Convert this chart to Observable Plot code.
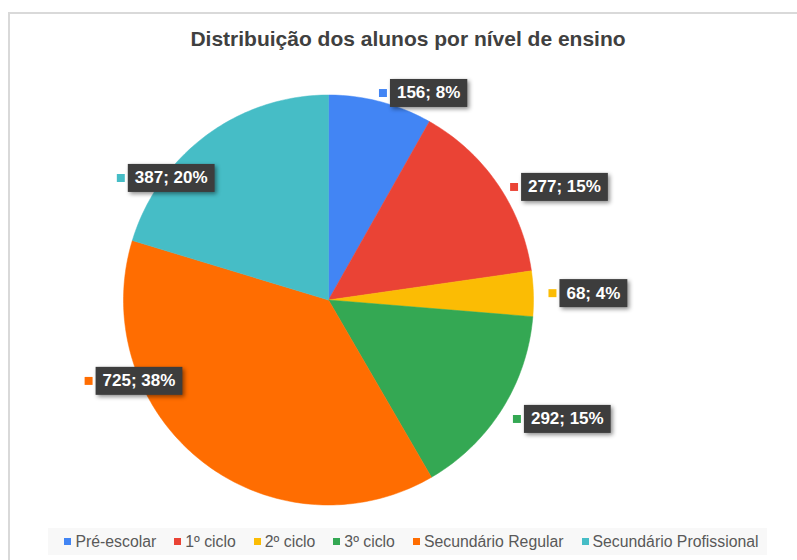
<!DOCTYPE html>
<html><head><meta charset="utf-8">
<script src="https://cdn.jsdelivr.net/npm/d3@7"></script>
<script src="https://cdn.jsdelivr.net/npm/@observablehq/plot@0.6"></script>
<style>
body{margin:0;background:#fff;font-family:"Liberation Sans",Arial,sans-serif;}
#wrap{position:relative;width:797px;height:560px;overflow:hidden;}
#frame{position:absolute;left:8px;top:12px;width:900px;height:700px;border-top:2px solid #d9d9d9;border-left:2px solid #d9d9d9;}
#chart{position:absolute;left:0;top:0;}
#title{position:absolute;left:0;width:816px;top:27px;text-align:center;font-weight:bold;font-size:21px;color:#404040;}
#legend{position:absolute;left:48px;top:528px;width:719px;height:27px;box-sizing:border-box;padding-left:8px;background:#f8f8f8;display:flex;justify-content:center;align-items:center;font-size:15.8px;color:#595959;}
.item{display:flex;align-items:center;margin:0 9px;white-space:nowrap;}
.sw{width:7px;height:7px;margin-right:4px;}
</style></head><body>
<div id="wrap"><div id="frame"></div><div id="chart"></div><div id="title">Distribuição dos alunos por nível de ensino</div><div id="legend"></div></div>
<script>
const categories = ["Pré-escolar", "1º ciclo", "2º ciclo", "3º ciclo", "Secundário Regular", "Secundário Profissional"];
const values = [156, 277, 68, 292, 725, 387];
const colors = ["#4285f4", "#ea4335", "#fbbc04", "#34a853", "#ff6d01", "#46bdc6"];

// label placement (angle shift from slice middle in degrees, distance as multiple of radius)
const labelShift = [0, 3, 0, 0, 33, -23];
const labelRadius = [1.044, 1.06, 1.093, 1.087, 1.235, 1.175];

const total = d3.sum(values);
const arcs = d3.pie().sort(null).value(d => d)(values);

const slicePts = [];
arcs.forEach((p, i) => {
  const n = Math.max(2, Math.ceil((p.endAngle - p.startAngle) / (Math.PI / 180)));
  slicePts.push({cat: categories[i], x: 0, y: 0});
  for (let k = 0; k <= n; k++) {
    const a = p.startAngle + (p.endAngle - p.startAngle) * k / n;
    slicePts.push({cat: categories[i], x: Math.sin(a), y: Math.cos(a)});
  }
  slicePts.push({cat: categories[i], x: 0, y: 0});
});

const labels = arcs.map((p, i) => {
  const a = (p.startAngle + p.endAngle) / 2 + labelShift[i] * Math.PI / 180;
  return {
    cat: categories[i],
    x: labelRadius[i] * Math.sin(a),
    y: labelRadius[i] * Math.cos(a),
    text: `${values[i]}; ${Math.round(values[i] / total * 100)}%`
  };
});

const chart = Plot.plot({
  width: 797,
  height: 560,
  x: {domain: [-1, 1], range: [123, 533], axis: null},
  y: {domain: [-1, 1], range: [504.5, 94.5], axis: null},
  color: {domain: categories, range: colors},
  style: {background: "transparent", fontFamily: "'Liberation Sans', Arial, sans-serif"},
  marks: [
    Plot.line(slicePts, {x: "x", y: "y", z: "cat", fill: "cat", stroke: "cat", strokeWidth: 0.5}),
    Plot.dot(labels, {x: "x", y: "y", fill: "cat", symbol: "square", r: 4.5}),
    Plot.text(labels, {x: "x", y: "y", text: "text", dx: 14, textAnchor: "start", fill: "white", fontWeight: "bold", fontSize: 17})
  ]
});
document.getElementById("chart").appendChild(chart);

// dark label boxes behind the label texts
const svgNS = "http://www.w3.org/2000/svg";
chart.querySelectorAll('g[aria-label="text"] text').forEach(t => {
  const b = t.getBBox();
  const r = document.createElementNS(svgNS, "rect");
  const cy = b.y + b.height / 2;
  r.setAttribute("x", b.x - 7);
  r.setAttribute("width", b.width + 14);
  r.setAttribute("y", cy - 14);
  r.setAttribute("height", 28);
  r.setAttribute("fill", "#3d3d3d");
  r.setAttribute("style", "filter: drop-shadow(2px 2px 2px rgba(0,0,0,0.45))");
  const tr = t.getAttribute("transform");
  if (tr) r.setAttribute("transform", tr);
  t.parentNode.insertBefore(r, t);
});

const legend = document.getElementById("legend");
categories.forEach((c, i) => {
  const it = document.createElement("div");
  it.className = "item";
  it.innerHTML = `<span class="sw" style="background:${colors[i]}"></span><span>${c}</span>`;
  legend.appendChild(it);
});
</script>
</body></html>
